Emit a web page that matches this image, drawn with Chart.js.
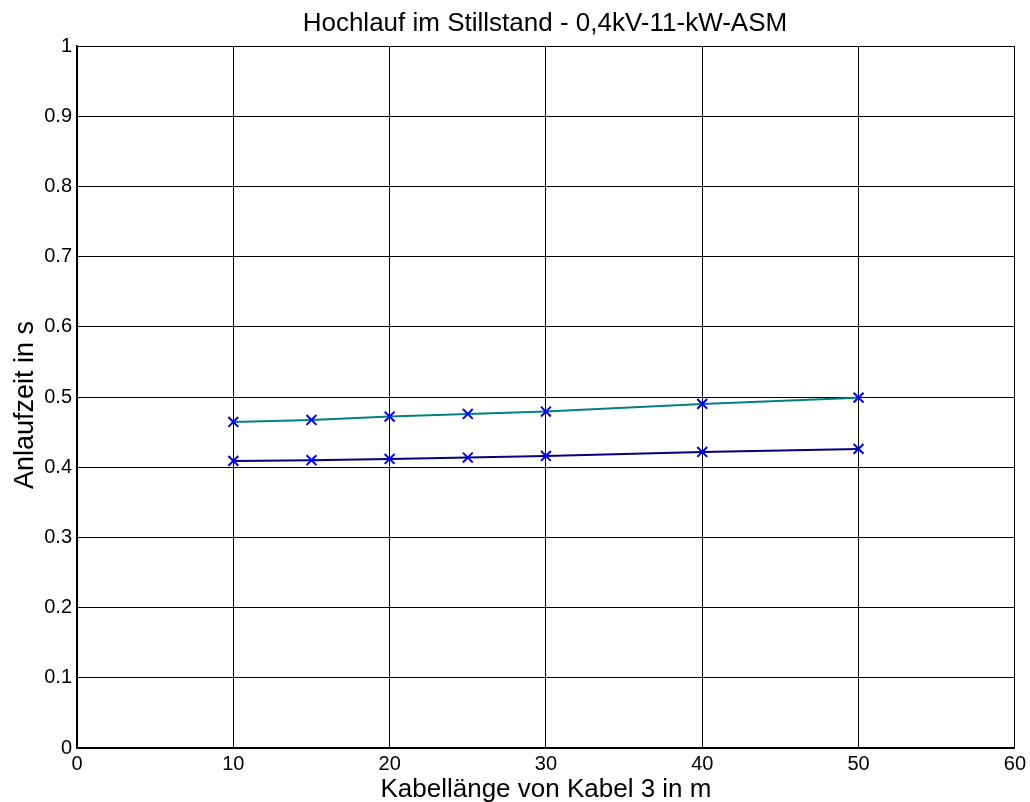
<!DOCTYPE html>
<html>
<head>
<meta charset="utf-8">
<script src="https://cdn.jsdelivr.net/npm/chart.js@4/dist/chart.umd.min.js"></script>
<style>
html,body{margin:0;padding:0;background:#fff;}
#wrap{width:1030px;height:802px;position:relative;}
</style>
</head>
<body>
<div id="wrap"><canvas id="c" width="1030" height="802"></canvas></div>
<script>
const titleText = "Hochlauf im Stillstand - 0,4kV-11-kW-ASM";
const xLabel = "Kabellänge von Kabel 3 in m";
const yLabel = "Anlaufzeit in s";
const cableLengths = [10, 15, 20, 25, 30, 40, 50];
const upperSeries = [0.4645, 0.4674, 0.4721, 0.4759, 0.4792, 0.4902, 0.4991];
const lowerSeries = [0.4090, 0.4100, 0.4118, 0.4137, 0.4160, 0.4218, 0.4261];
const xTicks = [0, 10, 20, 30, 40, 50, 60];
const yTicks = [0, 0.1, 0.2, 0.3, 0.4, 0.5, 0.6, 0.7, 0.8, 0.9, 1];

const FONT = "'Liberation Sans', Arial, sans-serif";

function pts(ys){ return cableLengths.map((x,i)=>({x:x, y:ys[i]})); }

const textPlugin = {
  id: 'texts',
  afterDraw(chart){
    const ctx = chart.ctx;
    const a = chart.chartArea;
    const cx = (a.left + a.right)/2;
    ctx.save();
    ctx.fillStyle = '#000';
    ctx.textAlign = 'center';
    ctx.textBaseline = 'alphabetic';
    ctx.font = "26px " + FONT;
    ctx.fillText(titleText, cx - 1, 31);
    ctx.font = "26px " + FONT;
    ctx.fillText(xLabel, cx, 797);
    ctx.translate(33, 405);
    ctx.rotate(-Math.PI/2);
    ctx.font = "27px " + FONT;
    ctx.fillText(yLabel, 0, 0);
    ctx.restore();
  }
};

new Chart(document.getElementById('c'), {
  type: 'line',
  data: {
    datasets: [
      {
        label: 'upper',
        data: pts(upperSeries),
        borderColor: '#008080',
        borderWidth: 2,
        pointStyle: 'crossRot',
        pointRadius: 7,
        pointBorderColor: '#0000ff',
        pointBorderWidth: 2,
        pointBackgroundColor: '#0000ff',
        fill: false,
        tension: 0
      },
      {
        label: 'lower',
        data: pts(lowerSeries),
        borderColor: '#000080',
        borderWidth: 2,
        pointStyle: 'crossRot',
        pointRadius: 7,
        pointBorderColor: '#0000ff',
        pointBorderWidth: 2,
        pointBackgroundColor: '#0000ff',
        fill: false,
        tension: 0
      }
    ]
  },
  options: {
    responsive: false,
    animation: false,
    events: [],
    layout: { padding: { left: 0, top: 46, right: 15, bottom: 0 } },
    plugins: { legend: { display: false }, title: { display: false }, tooltip: { enabled: false } },
    scales: {
      x: {
        type: 'linear',
        min: xTicks[0],
        max: xTicks[xTicks.length-1],
        afterBuildTicks(s){ s.ticks = xTicks.map(v=>({value:v})); },
        afterFit(s){ s.height = 54; },
        grid: { color: '#000', lineWidth: 1, drawTicks: false },
        border: { color: '#000', width: 1.5 },
        ticks: { color: '#000', font: { family: FONT, size: 20 }, padding: 4, maxRotation: 0,
          callback: v => String(v) }
      },
      y: {
        type: 'linear',
        min: yTicks[0],
        max: yTicks[yTicks.length-1],
        afterBuildTicks(s){ s.ticks = yTicks.map(v=>({value:v})); },
        afterFit(s){ s.width = 77; },
        grid: { color: '#000', lineWidth: 1, drawTicks: false },
        border: { color: '#000', width: 1.5 },
        ticks: { color: '#000', font: { family: FONT, size: 20 }, padding: 5,
          callback: v => String(Math.round(v*10)/10) }
      }
    }
  },
  plugins: [textPlugin]
});
</script>
</body>
</html>
